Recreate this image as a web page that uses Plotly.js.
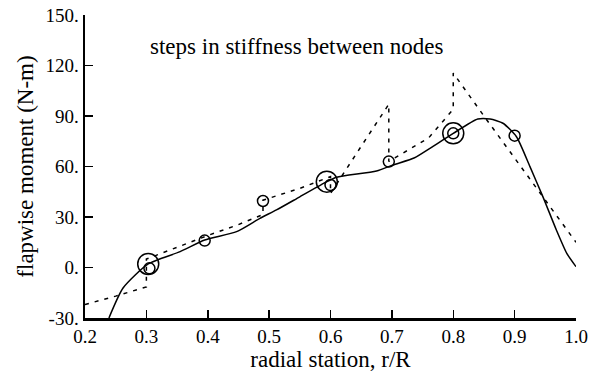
<!DOCTYPE html>
<html>
<head>
<meta charset="utf-8">
<script src="https://cdn.plot.ly/plotly-3.0.1.min.js"></script>
<style>html,body{margin:0;padding:0;background:#fff;}#chart{width:589px;height:378px;}</style>
</head>
<body>
<div id="chart"></div>
<script>
// Solid curve: smooth flapwise moment distribution
var solidX = [0.239, 0.262, 0.303, 0.355, 0.395, 0.447, 0.485, 0.512, 0.55, 0.594, 0.61, 0.675, 0.702, 0.737, 0.762, 0.8, 0.84, 0.86, 0.881, 0.903, 0.925, 0.946, 0.968, 0.985, 1.0];
var solidY = [-30, -12.2, 2.1, 9.4, 16.3, 21.3, 29.2, 34.2, 42, 51, 53.6, 57.3, 60.9, 65.2, 70.8, 79.7, 88.2, 88.2, 85.7, 77.7, 59.9, 42.1, 22.3, 8.4, 0.5];

// Dashed curve: steps in stiffness between nodes
var dashX = [0.2, 0.25, 0.3, 0.3, 0.35, 0.4, 0.45, 0.49, 0.49, 0.55, 0.6, 0.6, 0.65, 0.695, 0.695, 0.76, 0.8, 0.8, 0.85, 0.9, 0.95, 1.0];
var dashY = [-22, -17, -11.5, 5, 12, 19, 25.5, 31.5, 40, 47, 54, 44, 72, 97, 63, 77, 94, 115.5, 90, 65, 40, 15];

// Small open circles
var smallX = [0.305, 0.395, 0.49, 0.6, 0.695, 0.8, 0.9];
var smallY = [-0.5, 16, 39.5, 49, 62.9, 79.7, 78.3];

// Large open circles
var bigX = [0.303, 0.594, 0.8];
var bigY = [2.1, 51, 79.7];

var xTickVals = [0.2, 0.3, 0.4, 0.5, 0.6, 0.7, 0.8, 0.9, 1.0];
var xTickText = ["0.2", "0.3", "0.4", "0.5", "0.6", "0.7", "0.8", "0.9", "1.0"];
var yTickVals = [-30, 0, 30, 60, 90, 120, 150];
var yTickText = ["-30.", "0.", "30.", "60.", "90.", "120.", "150."];

var font = "Liberation Serif";

var traces = [
  {x: solidX, y: solidY, mode: "lines", line: {color: "#000", width: 1.5, shape: "spline", smoothing: 0.6}, hoverinfo: "skip"},
  {x: dashX, y: dashY, mode: "lines", line: {color: "#000", width: 1.5, dash: "4px,6px"}, hoverinfo: "skip"},
  {x: smallX, y: smallY, mode: "markers", marker: {symbol: "circle-open", size: 11, color: "#000", line: {width: 1.5, color: "#000"}}, hoverinfo: "skip"},
  {x: bigX, y: bigY, mode: "markers", marker: {symbol: "circle-open", size: 21, color: "#000", line: {width: 1.5, color: "#000"}}, hoverinfo: "skip"}
];

var layout = {
  width: 589, height: 378,
  margin: {l: 85, r: 13, t: 15, b: 60},
  paper_bgcolor: "#fff", plot_bgcolor: "#fff",
  showlegend: false,
  font: {family: font, color: "#000", size: 19},
  xaxis: {
    range: [0.2, 1.0], tickvals: xTickVals, ticktext: xTickText,
    ticks: "inside", ticklen: 8, tickwidth: 1.5, tickcolor: "#000",
    showline: true, linewidth: 2.5, linecolor: "#000", mirror: false,
    showgrid: false, zeroline: false,
    tickfont: {family: font, size: 19, color: "#000"},
    title: {text: "radial station, r/R", font: {family: font, size: 23, color: "#000"}, standoff: 3}
  },
  yaxis: {
    range: [-30, 150], tickvals: yTickVals, ticktext: yTickText,
    ticks: "inside", ticklen: 8, tickwidth: 1.5, tickcolor: "#000",
    showline: true, linewidth: 2.5, linecolor: "#000", mirror: false,
    showgrid: false, zeroline: false,
    tickfont: {family: font, size: 19, color: "#000"},
    title: {text: "flapwise moment (N-m)", font: {family: font, size: 23, color: "#000"}, standoff: 6}
  },
  annotations: [{
    text: "steps in stiffness between nodes", xref: "paper", yref: "paper",
    x: (296.5 - 85) / 491, y: (318 - 46) / 303, xanchor: "center", yanchor: "middle",
    showarrow: false, font: {family: font, size: 23, color: "#000"}
  }]
};

Plotly.newPlot("chart", traces, layout, {staticPlot: true, displayModeBar: false});
</script>
</body>
</html>
